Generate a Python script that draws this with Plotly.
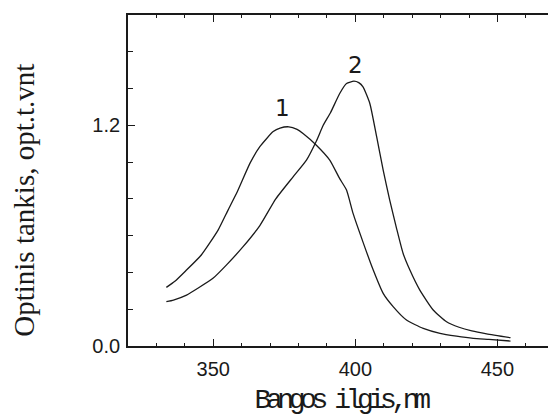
import plotly.graph_objects as go

# Absorption spectra: wavelength (nm) and optical density
wl_1 = [333.5, 336.5, 340.0, 345.8, 351.7, 355.2, 358.5, 362.9, 366.4, 371.1,
        373.5, 376.6, 379.5, 381.6, 386.3, 391.0, 394.5, 396.9, 399.2, 402.7,
        406.3, 409.8, 413.3, 418.0, 423.9, 429.8, 435.6, 441.5, 447.0, 454.6]
od_1 = [0.319, 0.352, 0.404, 0.495, 0.630, 0.739, 0.840, 0.993, 1.084, 1.166,
        1.185, 1.192, 1.178, 1.156, 1.092, 1.011, 0.910, 0.848, 0.721, 0.565,
        0.413, 0.286, 0.214, 0.141, 0.096, 0.069, 0.054, 0.042, 0.036, 0.027]

wl_2 = [333.5, 336.0, 340.6, 345.0, 349.9, 354.6, 360.5, 366.4, 372.0, 378.1,
        382.8, 386.3, 388.7, 391.3, 394.5, 396.9, 399.5, 401.2, 402.7, 405.1,
        407.5, 409.8, 412.1, 414.5, 416.8, 419.2, 422.7, 427.4, 432.1, 436.5,
        441.0, 446.2, 454.6]
od_2 = [0.241, 0.250, 0.277, 0.318, 0.368, 0.440, 0.540, 0.655, 0.800, 0.920,
        1.011, 1.115, 1.200, 1.270, 1.373, 1.427, 1.440, 1.432, 1.409, 1.319,
        1.138, 0.957, 0.793, 0.640, 0.504, 0.413, 0.304, 0.196, 0.132, 0.102,
        0.082, 0.066, 0.045]

curve_labels = ["1", "2"]
label_pos = [(374.5, 1.293), (400.2, 1.527)]

x_ticks = [350, 400, 450]
y_ticks = [0.0, 1.2]
y_ticktext = ["0.0", "1.2"]

x_title = "Bangos ilgis,nm"
y_title = "Optinis tankis, opt.t.vnt"

fig = go.Figure()
for wl, od in [(wl_1, od_1), (wl_2, od_2)]:
    fig.add_trace(go.Scatter(
        x=wl, y=od, mode="lines",
        line=dict(color="#1a1a1a", width=1.3, shape="spline", smoothing=0.5),
        showlegend=False, hoverinfo="skip",
    ))

for txt, (lx, ly) in zip(curve_labels, label_pos):
    fig.add_annotation(x=lx, y=ly, xref="x", yref="y", text=txt, showarrow=False,
                       xanchor="center", yanchor="middle",
                       font=dict(family="DejaVu Sans", size=23, color="#1a1a1a"))

fig.add_annotation(x=-0.2485, y=0.4407, xref="paper", yref="paper", text=y_title,
                   showarrow=False, textangle=-90, xanchor="center", yanchor="middle",
                   font=dict(family="Liberation Serif", size=29, color="#1a1a1a"))
fig.add_annotation(x=0.5044, y=-0.166, xref="paper", yref="paper", text=x_title,
                   showarrow=False, xanchor="center", yanchor="middle",
                   font=dict(family="Liberation Mono", size=28, color="#1a1a1a"))

axis_font = dict(family="Liberation Sans", size=20, color="#1a1a1a")

fig.update_xaxes(
    range=[320, 467.8], showgrid=False, zeroline=False,
    showline=True, linecolor="#1a1a1a", linewidth=1.7, mirror="ticks",
    ticks="inside", ticklen=7, tickwidth=1.4, tickcolor="#1a1a1a",
    tickvals=x_ticks, tickfont=axis_font, ticklabelstandoff=4,
    minor=dict(dtick=10, tick0=320, ticks="inside", ticklen=3.5,
               tickwidth=1.3, tickcolor="#1a1a1a", showgrid=False),
)
fig.update_yaxes(
    range=[0, 1.8], showgrid=False, zeroline=False,
    showline=True, linecolor="#1a1a1a", linewidth=1.7, mirror=False,
    ticks="inside", ticklen=7, tickwidth=1.4, tickcolor="#1a1a1a",
    tickvals=y_ticks, ticktext=y_ticktext, tickfont=axis_font, ticklabelstandoff=2,
    minor=dict(dtick=0.2, tick0=0, ticks="inside", ticklen=5,
               tickwidth=1.3, tickcolor="#1a1a1a", showgrid=False),
)

fig.update_layout(
    width=548, height=415,
    margin=dict(l=128, r=0, t=15, b=69, pad=0),
    paper_bgcolor="white", plot_bgcolor="white",
)

# Tighten the letter spacing of the wavelength title
tighten = """
document.querySelectorAll('text.annotation-text').forEach(function (t) {
  if (t.textContent.indexOf('Bangos') === 0) { t.style.letterSpacing = '-5.4px'; }
});
"""

fig.write_html("out.html", post_script=tighten)
